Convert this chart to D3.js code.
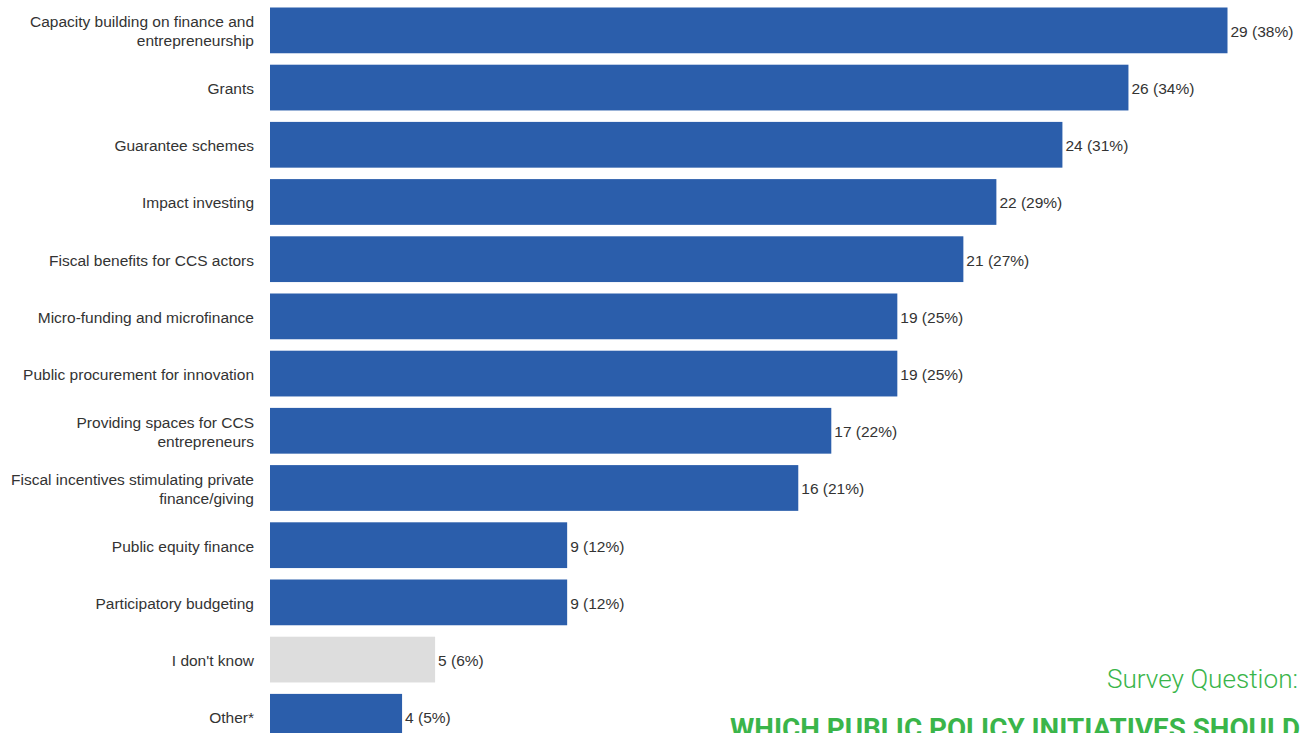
<!DOCTYPE html>
<html><head><meta charset="utf-8">
<script src="https://cdn.jsdelivr.net/npm/d3@7"></script>
<style>html,body{margin:0;padding:0;background:#fff;overflow:hidden}</style>
</head><body>
<svg id="chart" width="1306" height="733"></svg>
<script>
const categories = [
  "Capacity building on finance and|entrepreneurship",
  "Grants",
  "Guarantee schemes",
  "Impact investing",
  "Fiscal benefits for CCS actors",
  "Micro-funding and microfinance",
  "Public procurement for innovation",
  "Providing spaces for CCS|entrepreneurs",
  "Fiscal incentives stimulating private|finance/giving",
  "Public equity finance",
  "Participatory budgeting",
  "I don't know",
  "Other*"
];
const counts = [29, 26, 24, 22, 21, 19, 19, 17, 16, 9, 9, 5, 4];
const percents = [38, 34, 31, 29, 27, 25, 25, 22, 21, 12, 12, 6, 5];
const greyCategories = ["I don't know"];
const surveyLabel = "Survey Question:";
const surveyQuestion = "WHICH PUBLIC POLICY INITIATIVES SHOULD";

const svg = d3.select("#chart");
const data = categories.map((c, i) => ({cat: c, n: counts[i], p: percents[i]}));

const nCat = categories.length;
const step = 57.2, pad = 0.2, topY = 7.5;
const y = d3.scaleBand().domain(categories)
  .range([topY, topY + step * (nCat - pad)])
  .paddingInner(pad).paddingOuter(0);
const x = d3.scaleLinear().domain([0, 29]).range([270, 1227.5]);

svg.selectAll("rect.bar").data(data).join("rect")
  .attr("class", "bar")
  .attr("x", x(0))
  .attr("y", d => y(d.cat))
  .attr("width", d => x(d.n) - x(0))
  .attr("height", y.bandwidth())
  .attr("fill", d => greyCategories.includes(d.cat) ? "#dddddd" : "#2b5eab");

svg.selectAll("text.val").data(data).join("text")
  .attr("class", "val")
  .attr("x", d => x(d.n) + 3)
  .attr("y", d => y(d.cat) + y.bandwidth() / 2 + 1)
  .attr("dy", "0.35em")
  .attr("font-family", "Liberation Sans, Arial, sans-serif")
  .attr("font-size", 15.5)
  .attr("fill", "#333")
  .text(d => `${d.n} (${d.p}%)`);

const lab = svg.selectAll("text.lab").data(data).join("text")
  .attr("class", "lab")
  .attr("text-anchor", "end")
  .attr("font-family", "Liberation Sans, Arial, sans-serif")
  .attr("font-size", 15.5)
  .attr("fill", "#333");
lab.each(function(d) {
  const lines = d.cat.split("|");
  const cy = y(d.cat) + y.bandwidth() / 2 + 1;
  const lh = 19;
  const t = d3.select(this);
  lines.forEach((ln, i) => {
    t.append("tspan")
      .attr("x", 254)
      .attr("y", cy + (i - (lines.length - 1) / 2) * lh)
      .attr("dy", "0.35em")
      .text(ln);
  });
});

svg.append("text")
  .attr("x", 1298).attr("y", 688)
  .attr("text-anchor", "end")
  .attr("font-family", "Roboto, sans-serif")
  .attr("font-weight", 300)
  .attr("font-size", 25)
  .attr("fill", "#3ab54a")
  .attr("textLength", 191).attr("lengthAdjust", "spacingAndGlyphs")
  .text(surveyLabel);

svg.append("text")
  .attr("x", 730).attr("y", 738)
  .attr("font-family", "Roboto, sans-serif")
  .attr("font-weight", 700)
  .attr("font-size", 27)
  .attr("fill", "#3ab54a")
  .attr("textLength", 570).attr("lengthAdjust", "spacingAndGlyphs")
  .text(surveyQuestion);
</script>
</body></html>
